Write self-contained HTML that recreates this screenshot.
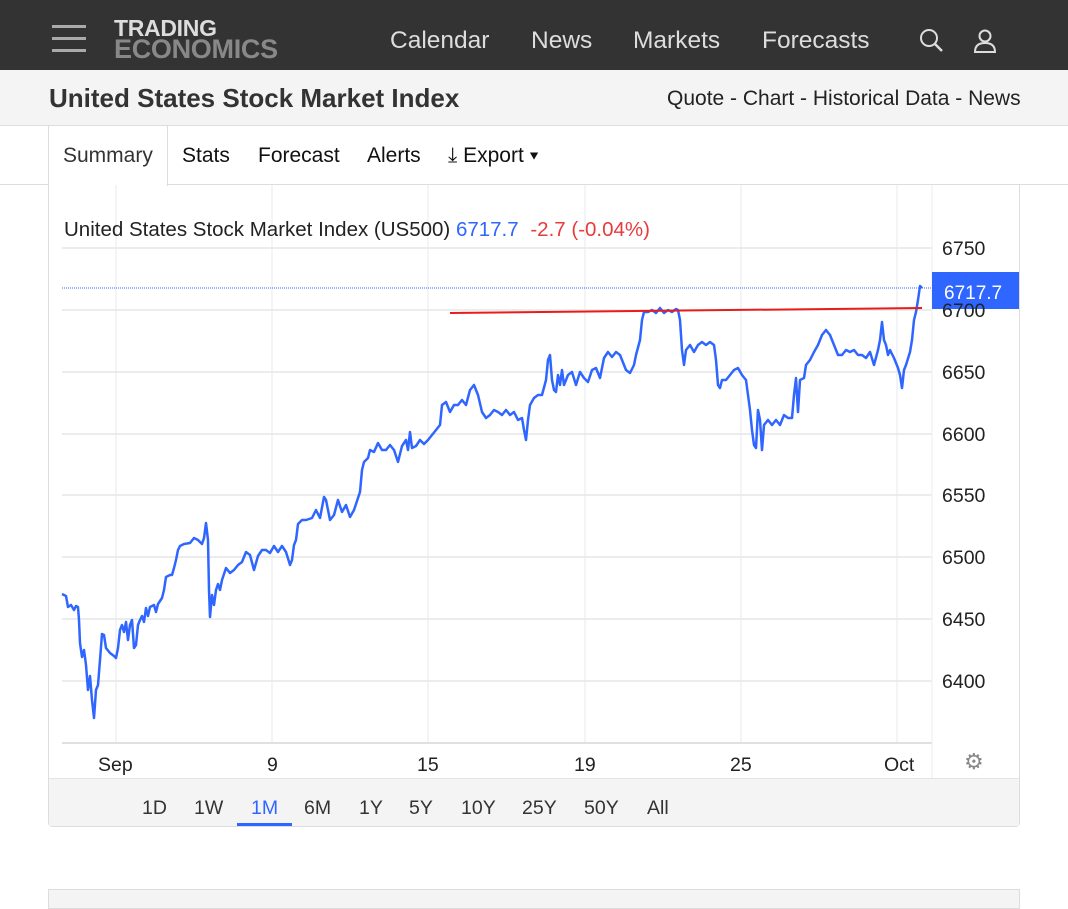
<!DOCTYPE html>
<html><head><meta charset="utf-8"><style>
*{margin:0;padding:0;box-sizing:border-box}
body{width:1068px;height:901px;overflow:hidden;background:#fff;font-family:"Liberation Sans",Arial,sans-serif;position:relative}
.a{position:absolute;white-space:nowrap}
</style></head><body>
<div class="a" style="left:0;top:0;width:1068px;height:70px;background:#333"></div>
<div class="a" style="left:52px;top:25px;width:34px;height:3px;background:#aaa"></div>
<div class="a" style="left:52px;top:37px;width:34px;height:3px;background:#aaa"></div>
<div class="a" style="left:52px;top:49px;width:34px;height:3px;background:#aaa"></div>
<div class="a" style="left:114px;top:19px;font-weight:bold;font-size:23px;line-height:19px;color:#ddd;letter-spacing:-0.3px">TRADING</div>
<div class="a" style="left:114px;top:38px;font-weight:bold;font-size:27px;line-height:22px;color:#888;letter-spacing:-0.3px">ECONOMICS</div>
<div class="a" style="left:390px;top:27px;font-size:24.5px;color:#ddd">Calendar</div>
<div class="a" style="left:531px;top:27px;font-size:24.5px;color:#ddd">News</div>
<div class="a" style="left:633px;top:27px;font-size:24.5px;color:#ddd">Markets</div>
<div class="a" style="left:762px;top:27px;font-size:24.5px;color:#ddd">Forecasts</div>
<svg class="a" style="left:916px;top:26px" width="90" height="30"><circle cx="13" cy="12" r="8" fill="none" stroke="#ddd" stroke-width="2"/><line x1="19" y1="18" x2="26" y2="25" stroke="#ddd" stroke-width="2.5"/><circle cx="69" cy="10" r="5.5" fill="none" stroke="#ddd" stroke-width="2"/><path d="M59 26 Q59 17 69 17 Q79 17 79 26 Z" fill="none" stroke="#ddd" stroke-width="2"/></svg>
<div class="a" style="left:0;top:70px;width:1068px;height:56px;background:#f4f4f4;border-bottom:1px solid #ddd"></div>
<div class="a" style="left:49px;top:83px;font-size:26px;font-weight:bold;color:#333">United States Stock Market Index</div>
<div class="a" style="left:667px;top:87px;font-size:21px;color:#222">Quote - Chart - Historical Data - News</div>
<div class="a" style="left:0;top:184px;width:1068px;height:1px;background:#ddd"></div>
<div class="a" style="left:48px;top:126px;width:120px;height:60px;background:#fff;border-left:1px solid #ddd;border-right:1px solid #ddd"></div>
<div class="a" style="left:63px;top:144px;font-size:21px;color:#333">Summary</div>
<div class="a" style="left:182px;top:144px;font-size:21px;color:#111">Stats</div>
<div class="a" style="left:258px;top:144px;font-size:21px;color:#111">Forecast</div>
<div class="a" style="left:367px;top:144px;font-size:21px;color:#111">Alerts</div>
<div class="a" style="left:448px;top:144px;font-size:21px;color:#111">⤓ Export ▾</div>
<div class="a" style="left:48px;top:185px;width:972px;height:642px;border:1px solid #ddd;border-top:none;border-radius:0 0 4px 4px"></div>
<div class="a" style="left:49px;top:778px;width:970px;height:48px;background:#f4f4f4;border-top:1px solid #e4e4e4"></div>
<svg class="a" style="left:0;top:0" width="1068" height="901">
<g stroke="#eef1f4" stroke-width="1.5">
<line x1="116" y1="185" x2="116" y2="743"/><line x1="272" y1="185" x2="272" y2="743"/><line x1="428" y1="185" x2="428" y2="743"/><line x1="585" y1="185" x2="585" y2="743"/><line x1="741" y1="185" x2="741" y2="743"/><line x1="897" y1="185" x2="897" y2="743"/>
</g>
<g stroke="#e6e6e6" stroke-width="1.5">
<line x1="62" y1="248" x2="932" y2="248"/><line x1="62" y1="310" x2="932" y2="310"/><line x1="62" y1="372" x2="932" y2="372"/><line x1="62" y1="434" x2="932" y2="434"/><line x1="62" y1="495" x2="932" y2="495"/><line x1="62" y1="557" x2="932" y2="557"/><line x1="62" y1="619" x2="932" y2="619"/><line x1="62" y1="681" x2="932" y2="681"/>
</g>
<line x1="62" y1="743" x2="932" y2="743" stroke="#e0e0e0" stroke-width="2"/>
<line x1="932" y1="185" x2="932" y2="778" stroke="#eee" stroke-width="1"/>
<line x1="62" y1="288" x2="932" y2="288" stroke="#2f6bff" stroke-width="1" stroke-dasharray="1,1"/>
<polyline fill="none" stroke="#2f66ff" stroke-width="2.5" stroke-linejoin="round" points="62,594 66,596 68,607 71,605 74,610 76,606 78,607 79,620 80,643 82,657 84,650 86,665 88,690 90,676 92,700 94,718 96,690 98,685 100,660 102,634 104,635 106,648 110,653 114,656 116,658 118,648 120,630 122,625 124,632 126,622 128,640 130,625 132,620 134,648 136,645 138,625 140,620 142,616 144,622 146,608 148,616 150,607 154,605 156,612 158,604 162,598 164,590 166,577 170,575 172,575 174,568 176,560 178,550 180,546 184,544 190,543 194,538 198,540 202,544 204,538 206,523 208,540 209,590 210,617 212,595 214,605 216,590 218,584 220,590 222,580 226,568 230,573 234,570 238,565 242,562 246,552 250,555 254,570 258,556 262,550 266,550 270,553 274,546 278,552 282,546 286,552 290,565 292,560 294,545 296,540 298,524 302,520 306,520 312,518 316,510 320,518 324,497 326,500 330,520 334,515 338,500 342,512 346,505 350,517 354,510 358,498 360,492 362,470 364,462 368,458 370,450 374,452 378,443 382,450 386,450 390,445 394,450 398,462 402,446 406,440 408,450 410,432 412,448 416,446 420,440 424,444 428,440 432,435 436,430 440,425 442,405 446,402 450,412 454,405 458,405 462,400 466,405 470,390 474,385 478,395 482,412 486,418 490,415 494,410 498,412 502,415 506,410 510,415 514,412 518,420 522,418 524,430 526,440 528,420 530,405 534,398 538,395 542,395 546,380 548,360 550,355 552,380 554,390 556,392 558,375 560,385 562,370 564,385 568,375 572,372 576,385 580,372 584,378 588,382 592,370 596,368 600,378 604,358 608,352 612,357 616,352 620,355 624,365 626,370 630,373 634,365 636,355 640,340 642,320 644,312 648,312 652,310 656,313 660,308 664,313 668,310 672,312 676,309 678,310 680,320 682,350 684,365 686,350 690,345 694,352 698,345 702,342 706,345 710,342 714,345 716,360 718,385 720,388 722,380 726,380 730,375 734,370 738,368 742,375 746,380 748,395 750,410 752,430 754,445 756,448 758,410 760,420 762,450 764,425 768,420 772,425 776,420 780,425 784,415 788,418 792,418 794,395 796,378 798,412 800,380 804,378 806,365 810,360 814,352 818,345 822,335 826,330 830,335 834,345 838,355 842,355 846,350 850,352 854,350 858,355 862,355 866,358 870,352 874,365 878,350 880,340 882,322 884,340 886,345 888,355 890,350 894,358 898,368 900,375 902,388 904,370 906,365 910,352 912,340 914,320 916,312 918,300 920,286 922,288"/>
<line x1="450" y1="313" x2="922" y2="308" stroke="#e81c1c" stroke-width="2"/>
<rect x="932" y="272" width="87" height="37" fill="#2f66ff"/>
<text x="944" y="299" font-size="19" fill="#fff" font-family="Liberation Sans">6717.7</text>
<g font-size="19.5" fill="#222" font-family="Liberation Sans">
<text x="942" y="255">6750</text><text x="942" y="317">6700</text><text x="942" y="379">6650</text><text x="942" y="441">6600</text><text x="942" y="502">6550</text><text x="942" y="564">6500</text><text x="942" y="626">6450</text><text x="942" y="688">6400</text>
<text x="98" y="771">Sep</text><text x="267" y="771">9</text><text x="417" y="771">15</text><text x="574" y="771">19</text><text x="730" y="771">25</text><text x="884" y="771">Oct</text>
</g>
<text x="64" y="236" font-size="20.5" font-family="Liberation Sans" fill="#222">United States Stock Market Index (US500) <tspan fill="#2f66ff">6717.7</tspan>  <tspan fill="#e83b3b" dx="6">-2.7 (-0.04%)</tspan></text>
<text x="964" y="769" font-size="22" fill="#888">⚙</text>
<g font-size="19.5" fill="#333" font-family="Liberation Sans">
<text x="142" y="814">1D</text><text x="194" y="814">1W</text><text x="251" y="814" fill="#2f66ff">1M</text><text x="304" y="814">6M</text><text x="359" y="814">1Y</text><text x="409" y="814">5Y</text><text x="461" y="814">10Y</text><text x="522" y="814">25Y</text><text x="584" y="814">50Y</text><text x="647" y="814">All</text>
</g>
<rect x="237" y="823" width="55" height="3" fill="#2f66ff"/>
</svg>
<div class="a" style="left:48px;top:889px;width:972px;height:20px;border:1px solid #ddd;background:#f4f4f4"></div>
</body></html>
